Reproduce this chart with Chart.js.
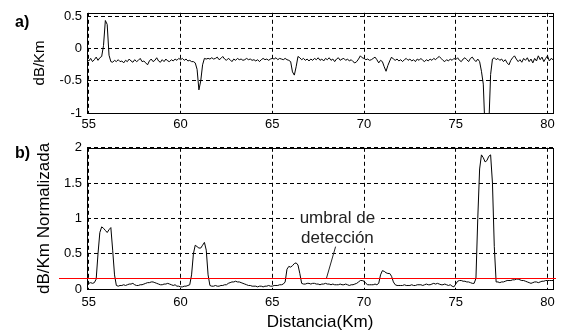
<!DOCTYPE html>
<html>
<head>
<meta charset="utf-8">
<script src="https://cdn.jsdelivr.net/npm/chart.js@4.4.1/dist/chart.umd.min.js"></script>
<style>
  html, body { margin: 0; padding: 0; background: #fff; }
  #wrap { position: relative; width: 563px; height: 331px; }
  canvas { position: absolute; left: 0; }
  #chart-a { top: 0; }
  #chart-b { top: 135px; }
</style>
</head>
<body>
<div id="wrap">
  <canvas id="chart-a" width="563" height="135"></canvas>
  <canvas id="chart-b" width="563" height="196"></canvas>
</div>
<script>
'use strict';

// samples every 0.1 km, first one at 54.9 km
const DIST_START = 54.9;
const DIST_STEP = 0.1;
const distTicks = [55, 60, 65, 70, 75, 80];

const lossTicks = [-1, -0.5, 0, 0.5];
const normTicks = [0, 0.5, 1, 1.5, 2];

// a) dB/Km, one row per km (row starts at xx.0)
const lossValues = [
  -0.16,
  -0.19, -0.15, -0.2, -0.17, -0.13, -0.18, -0.14, -0.12, 0.05, 0.44,   // 55
  0.38, -0.1, -0.2, -0.21, -0.18, -0.2, -0.17, -0.2, -0.19, -0.22,     // 56
  -0.18, -0.2, -0.16, -0.19, -0.21, -0.17, -0.2, -0.18, -0.15, -0.2,   // 57
  -0.19, -0.22, -0.25, -0.19, -0.16, -0.2, -0.18, -0.14, -0.19, -0.21, // 58
  -0.17, -0.2, -0.16, -0.19, -0.2, -0.17, -0.19, -0.16, -0.18, -0.15,  // 59
  -0.17, -0.15, -0.18, -0.16, -0.19, -0.18, -0.2, -0.2, -0.22, -0.32,  // 60
  -0.64, -0.5, -0.25, -0.15, -0.16, -0.15, -0.16, -0.14, -0.16, -0.15, // 61
  -0.13, -0.17, -0.15, -0.12, -0.16, -0.18, -0.15, -0.17, -0.2, -0.16, // 62
  -0.18, -0.15, -0.17, -0.16, -0.18, -0.17, -0.15, -0.17, -0.16, -0.18, // 63
  -0.17, -0.19, -0.17, -0.2, -0.17, -0.15, -0.17, -0.16, -0.18, -0.16, // 64
  -0.15, -0.16, -0.14, -0.17, -0.15, -0.16, -0.17, -0.15, -0.17, -0.18, // 65
  -0.2, -0.36, -0.41, -0.28, -0.12, -0.14, -0.17, -0.15, -0.18, -0.16, // 66
  -0.19, -0.16, -0.18, -0.15, -0.17, -0.14, -0.18, -0.16, -0.19, -0.15, // 67
  -0.17, -0.14, -0.18, -0.16, -0.2, -0.16, -0.14, -0.18, -0.16, -0.15, // 68
  -0.18, -0.16, -0.19, -0.17, -0.2, -0.22, -0.2, -0.16, -0.11, -0.14,  // 69
  -0.15, -0.17, -0.16, -0.18, -0.17, -0.15, -0.13, -0.17, -0.22, -0.18, // 70
  -0.2, -0.28, -0.35, -0.26, -0.19, -0.13, -0.16, -0.18, -0.16, -0.19, // 71
  -0.17, -0.2, -0.17, -0.15, -0.18, -0.16, -0.19, -0.17, -0.2, -0.16,  // 72
  -0.18, -0.15, -0.18, -0.2, -0.17, -0.19, -0.16, -0.18, -0.15, -0.17, // 73
  -0.14, -0.12, -0.15, -0.18, -0.2, -0.17, -0.19, -0.16, -0.18, -0.15, // 74
  -0.17, -0.14, -0.18, -0.2, -0.16, -0.14, -0.17, -0.2, -0.15, -0.13,  // 75
  -0.17, -0.2, -0.16, -0.2, -0.35, -0.55, -1.3, -1.4, -1.2, -0.4,      // 76
  -0.16, -0.14, -0.17, -0.15, -0.18, -0.16, -0.2, -0.17, -0.22, -0.25, // 77
  -0.18, -0.14, -0.11, -0.16, -0.2, -0.17, -0.21, -0.15, -0.18, -0.14, // 78
  -0.2, -0.16, -0.22, -0.15, -0.19, -0.11, -0.17, -0.13, -0.2, -0.15,  // 79
  -0.11, -0.19, -0.15, -0.17                                            // 80
];

// b) dB/Km normalizada, same sampling
const normValues = [
  0.07,
  0.08, 0.09, 0.08, 0.09, 0.14, 0.5, 0.8, 0.88, 0.86, 0.83,   // 55
  0.8, 0.84, 0.87, 0.55, 0.2, 0.05, 0.04, 0.05, 0.05, 0.06,   // 56
  0.05, 0.06, 0.07, 0.07, 0.08, 0.06, 0.05, 0.05, 0.06, 0.06, // 57
  0.07, 0.08, 0.09, 0.09, 0.1, 0.1, 0.09, 0.08, 0.07, 0.06,   // 58
  0.06, 0.07, 0.07, 0.08, 0.07, 0.06, 0.05, 0.06, 0.04, 0.04, // 59
  0.03, 0.03, 0.04, 0.04, 0.05, 0.06, 0.2, 0.5, 0.62, 0.6,    // 60
  0.58, 0.58, 0.62, 0.66, 0.55, 0.2, 0.05, 0.04, 0.04, 0.05,  // 61
  0.04, 0.04, 0.05, 0.05, 0.06, 0.06, 0.08, 0.09, 0.1, 0.1,   // 62
  0.11, 0.1, 0.1, 0.09, 0.08, 0.07, 0.06, 0.05, 0.05, 0.04,   // 63
  0.04, 0.04, 0.03, 0.04, 0.04, 0.03, 0.04, 0.04, 0.05, 0.04, // 64
  0.04, 0.05, 0.05, 0.05, 0.06, 0.06, 0.07, 0.1, 0.28, 0.32,  // 65
  0.31, 0.33, 0.36, 0.37, 0.34, 0.22, 0.08, 0.07, 0.07, 0.08, // 66
  0.08, 0.07, 0.08, 0.08, 0.07, 0.07, 0.06, 0.07, 0.07, 0.08, // 67
  0.07, 0.07, 0.06, 0.07, 0.06, 0.06, 0.06, 0.07, 0.06, 0.06, // 68
  0.07, 0.06, 0.05, 0.06, 0.06, 0.07, 0.08, 0.1, 0.12, 0.12,  // 69
  0.11, 0.08, 0.06, 0.06, 0.06, 0.06, 0.07, 0.06, 0.08, 0.2,  // 70
  0.26, 0.25, 0.23, 0.22, 0.22, 0.18, 0.1, 0.06, 0.05, 0.05,  // 71
  0.05, 0.05, 0.06, 0.05, 0.05, 0.05, 0.06, 0.05, 0.05, 0.06, // 72
  0.06, 0.06, 0.05, 0.06, 0.07, 0.06, 0.06, 0.07, 0.08, 0.07, // 73
  0.08, 0.07, 0.06, 0.06, 0.07, 0.06, 0.05, 0.06, 0.04, 0.03, // 74
  0.07, 0.11, 0.12, 0.12, 0.11, 0.11, 0.1, 0.1, 0.09, 0.08,   // 75
  0.08, 0.15, 1.0, 1.7, 1.9, 1.86, 1.8, 1.82, 1.88, 1.9,      // 76
  1.5, 0.6, 0.1, 0.1, 0.09, 0.1, 0.1, 0.11, 0.12, 0.12,       // 77
  0.12, 0.13, 0.13, 0.14, 0.14, 0.13, 0.12, 0.12, 0.11, 0.1,  // 78
  0.09, 0.08, 0.09, 0.1, 0.1, 0.09, 0.1, 0.11, 0.11, 0.12,    // 79
  0.12, 0.12, 0.12, 0.12                                      // 80
];

const THRESHOLD = 0.15;
const thresholdText = ['umbral de', 'detección'];
const thresholdTextAt = { x: 68.55, y: 1.0 };
const leaderFrom = { x: 68.45, y: 0.6 };
const leaderTo = { x: 67.95, y: THRESHOLD };

const FONT = '"Liberation Sans", Arial, sans-serif';

function toPoints(values) {
  return values.map((v, i) => ({ x: Math.round((DIST_START + i * DIST_STEP) * 10) / 10, y: v }));
}

// box round the plot area + panel letter
const framePlugin = {
  id: 'frame',
  beforeDatasetsDraw(chart, args, opts) {
    const { ctx, chartArea: a } = chart;
    ctx.save();
    ctx.strokeStyle = '#000';
    ctx.lineWidth = 1;
    ctx.strokeRect(Math.round(a.left) + 0.5, Math.round(a.top) + 0.5,
      Math.round(a.right - a.left), Math.round(a.bottom - a.top));
    ctx.font = 'bold 16px ' + FONT;
    ctx.fillStyle = '#000';
    ctx.textBaseline = 'middle';
    ctx.fillText(opts.label, a.left - 72, a.top + opts.labelDy);
    ctx.restore();
  }
};

// red detection threshold with its note
const thresholdPlugin = {
  id: 'threshold',
  afterDatasetsDraw(chart) {
    const { ctx, chartArea: a, scales: { x, y } } = chart;
    const py = Math.round(y.getPixelForValue(THRESHOLD)) + 0.5;

    ctx.save();
    ctx.font = '17px ' + FONT;
    const tx = x.getPixelForValue(thresholdTextAt.x);
    const ty = y.getPixelForValue(thresholdTextAt.y);
    const w = Math.max(...thresholdText.map(t => ctx.measureText(t).width));
    ctx.fillStyle = '#fff';
    ctx.fillRect(tx - w / 2 - 5, ty - 10, w + 10, 40);
    ctx.fillStyle = '#222';
    ctx.textAlign = 'center';
    ctx.textBaseline = 'middle';
    thresholdText.forEach((t, i) => ctx.fillText(t, tx, ty + i * 20));

    ctx.strokeStyle = '#222';
    ctx.lineWidth = 1;
    ctx.beginPath();
    ctx.moveTo(x.getPixelForValue(leaderFrom.x), y.getPixelForValue(leaderFrom.y));
    ctx.lineTo(x.getPixelForValue(leaderTo.x), y.getPixelForValue(leaderTo.y));
    ctx.stroke();

    ctx.strokeStyle = '#ff0000';
    ctx.beginPath();
    ctx.moveTo(a.left - 28, py);
    ctx.lineTo(a.right + 3, py);
    ctx.stroke();
    ctx.restore();
  }
};

function makeChart(id, values, cfg) {
  return new Chart(document.getElementById(id), {
    type: 'line',
    data: {
      datasets: [{
        data: toPoints(values),
        borderColor: '#000',
        borderWidth: 1,
        pointRadius: 0,
        tension: 0,
        fill: false
      }]
    },
    options: {
      responsive: false,
      animation: false,
      devicePixelRatio: 1,
      layout: { padding: { top: 10, right: 10, left: 0, bottom: 0 } },
      plugins: {
        legend: { display: false },
        tooltip: { enabled: false },
        frame: { label: cfg.label, labelDy: cfg.labelDy }
      },
      scales: {
        x: {
          type: 'linear',
          min: 54.9,
          max: 80.3,
          afterBuildTicks: s => { s.ticks = distTicks.map(v => ({ value: v })); },
          afterFit: s => { s.height = cfg.xHeight; },
          grid: { color: '#000', drawTicks: false },
          border: { display: false, dash: [4, 3] },
          ticks: {
            color: '#000',
            font: { family: FONT, size: 13 },
            padding: cfg.xPad,
            maxRotation: 0,
            callback: v => String(v)
          },
          title: {
            display: !!cfg.xTitle,
            text: cfg.xTitle || '',
            color: '#000',
            font: { family: FONT, size: 17, lineHeight: 1 },
            padding: { top: 0, bottom: 0 }
          }
        },
        y: {
          min: cfg.yMin,
          max: cfg.yMax,
          afterBuildTicks: s => { s.ticks = cfg.yTicks.map(v => ({ value: v })); },
          afterFit: s => { s.width = 87; },
          grid: { color: '#000', drawTicks: false },
          border: { display: false, dash: [4, 3] },
          ticks: {
            color: '#000',
            font: { family: FONT, size: 13 },
            padding: 5,
            callback: v => String(v)
          },
          title: {
            display: true,
            text: cfg.yTitle,
            color: '#000',
            font: { family: FONT, size: cfg.yTitleSize, lineHeight: 1 },
            padding: { top: cfg.yTitlePad, bottom: 0 }
          }
        }
      }
    },
    plugins: cfg.threshold ? [framePlugin, thresholdPlugin] : [framePlugin]
  });
}

makeChart('chart-a', lossValues, {
  label: 'a)', labelDy: 10,
  yMin: -1, yMax: 0.56, yTicks: lossTicks,
  yTitle: 'dB/Km', yTitleSize: 15, yTitlePad: 32,
  xHeight: 22, xPad: 4
});

makeChart('chart-b', normValues, {
  label: 'b)', labelDy: 6,
  yMin: 0, yMax: 2, yTicks: normTicks,
  yTitle: 'dB/Km Normalizada', yTitleSize: 17, yTitlePad: 36,
  xHeight: 42, xPad: 6, xTitle: 'Distancia(Km)',
  threshold: true
});
</script>
</body>
</html>
